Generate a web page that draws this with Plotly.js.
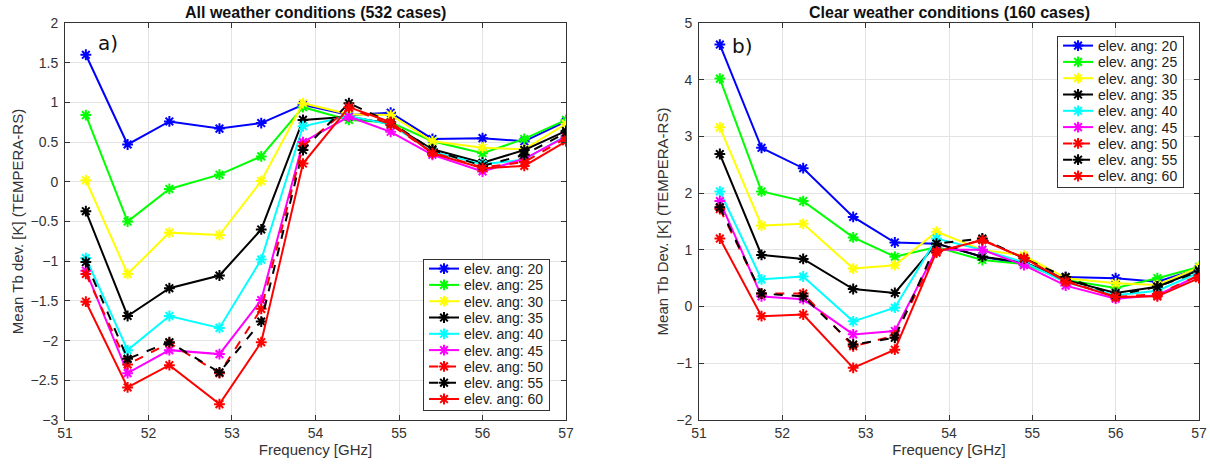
<!DOCTYPE html>
<html><head><meta charset="utf-8">
<script src="https://cdn.plot.ly/plotly-3.0.1.min.js"></script>
<style>body{margin:0;background:#fff}#c{width:1210px;height:464px}</style>
</head><body><div id="c"></div>
<script>
const freq = [51.25, 51.75, 52.25, 52.85, 53.35, 53.85, 54.4, 54.9, 55.4, 56.0, 56.5, 57.0];
const angles = ['20','25','30','35','40','45','50','55','60'];
const colors = ['#0000ff','#00ff00','#ffff00','#000000','#00ffff','#ff00ff','#ff0000','#000000','#ff0000'];
const dashes = ['solid','solid','solid','solid','solid','solid','dash','dash','solid'];

// a) All weather conditions
const allA20 = [1.60, 0.47, 0.76, 0.67, 0.74, 0.97, 0.84, 0.87, 0.54, 0.55, 0.51, 0.76];
const allA25 = [0.84, -0.50, -0.09, 0.09, 0.32, 0.94, 0.78, 0.75, 0.51, 0.36, 0.54, 0.78];
const allA30 = [0.02, -1.16, -0.64, -0.67, 0.01, 0.99, 0.85, 0.84, 0.51, 0.43, 0.41, 0.73];
const allA35 = [-0.37, -1.69, -1.34, -1.18, -0.60, 0.78, 0.82, 0.73, 0.41, 0.24, 0.40, 0.64];
const allA40 = [-0.96, -2.12, -1.69, -1.84, -0.98, 0.70, 0.83, 0.72, 0.38, 0.22, 0.28, 0.58];
const allA45 = [-1.12, -2.41, -2.12, -2.17, -1.49, 0.50, 0.82, 0.63, 0.34, 0.13, 0.29, 0.57];
const allA50 = [-1.16, -2.30, -2.03, -2.41, -1.60, 0.45, 0.93, 0.72, 0.37, 0.18, 0.25, 0.55];
const allA55 = [-1.01, -2.23, -2.02, -2.40, -1.76, 0.40, 0.99, 0.75, 0.40, 0.20, 0.34, 0.62];
const allA60 = [-1.51, -2.59, -2.31, -2.80, -2.02, 0.23, 0.94, 0.75, 0.36, 0.17, 0.20, 0.51];

// b) Clear weather conditions
const clrA20 = [4.62, 2.80, 2.44, 1.58, 1.13, 1.11, 0.88, 0.75, 0.52, 0.50, 0.44, 0.67];
const clrA25 = [4.02, 2.03, 1.86, 1.22, 0.88, 1.05, 0.82, 0.75, 0.47, 0.33, 0.50, 0.70];
const clrA30 = [3.16, 1.43, 1.46, 0.67, 0.73, 1.32, 1.00, 0.90, 0.50, 0.41, 0.38, 0.69];
const clrA35 = [2.69, 0.91, 0.84, 0.31, 0.24, 1.11, 0.88, 0.78, 0.47, 0.24, 0.35, 0.64];
const clrA40 = [2.03, 0.48, 0.53, -0.26, -0.02, 1.20, 1.00, 0.78, 0.43, 0.20, 0.28, 0.60];
const clrA45 = [1.86, 0.18, 0.13, -0.49, -0.43, 1.00, 1.00, 0.73, 0.37, 0.14, 0.20, 0.55];
const clrA50 = [1.72, 0.23, 0.23, -0.70, -0.51, 0.95, 1.18, 0.85, 0.45, 0.17, 0.22, 0.55];
const clrA55 = [1.75, 0.23, 0.18, -0.67, -0.55, 1.11, 1.20, 0.85, 0.52, 0.20, 0.35, 0.62];
const clrA60 = [1.20, -0.17, -0.14, -1.08, -0.76, 0.97, 1.17, 0.86, 0.44, 0.17, 0.18, 0.50];

const allSeries = [allA20, allA25, allA30, allA35, allA40, allA45, allA50, allA55, allA60];
const clrSeries = [clrA20, clrA25, clrA30, clrA35, clrA40, clrA45, clrA50, clrA55, clrA60];

const FONT = 'Liberation Sans, Arial, sans-serif';
const traces = [];
function add(series, xa, ya, leg) {
  series.forEach((ys, i) => {
    traces.push({
      x: freq, y: ys, type: 'scatter', mode: 'lines+markers',
      name: 'elev. ang: ' + angles[i],
      xaxis: xa, yaxis: ya, legend: leg,
      line: {color: colors[i], width: 2, dash: dashes[i]},
      marker: {symbol: 'asterisk-open', size: 9, color: colors[i], line: {color: colors[i], width: 2}}
    });
  });
}
add(allSeries, 'x', 'y', 'legend');
add(clrSeries, 'x2', 'y2', 'legend2');

const axBase = {
  showline: true, mirror: 'ticks', linecolor: '#333', linewidth: 1,
  ticks: 'inside', ticklen: 5, tickcolor: '#333',
  showgrid: true, gridcolor: '#e3e3e3', gridwidth: 1, zeroline: false,
  tickfont: {family: FONT, size: 14, color: '#333'}
};
const xTitle = {text: 'Frequency [GHz]', font: {family: FONT, size: 15, color: '#333'}, standoff: 2};

const layout = {
  width: 1210, height: 464,
  margin: {l: 0, r: 0, t: 0, b: 0},
  paper_bgcolor: '#fff', plot_bgcolor: '#fff',
  showlegend: true,
  xaxis: Object.assign({}, axBase, {domain: [0.0537, 0.4678], range: [51, 57], dtick: 1, anchor: 'y', title: xTitle}),
  yaxis: Object.assign({}, axBase, {domain: [0.0948, 0.9504], range: [-3, 2], dtick: 0.5, anchor: 'x', ticklabelstandoff: 3,
    title: {text: 'Mean Tb dev. [K] (TEMPERA-RS)', font: {family: FONT, size: 15, color: '#333'}, standoff: 3}}),
  xaxis2: Object.assign({}, axBase, {domain: [0.5777, 0.9909], range: [51, 57], dtick: 1, anchor: 'y2', title: xTitle}),
  yaxis2: Object.assign({}, axBase, {domain: [0.0948, 0.9504], range: [-2, 5], dtick: 1, anchor: 'x2', ticklabelstandoff: 3,
    title: {text: 'Mean Tb Dev. [K] (TEMPERA-RS)', font: {family: FONT, size: 15, color: '#333'}, standoff: 3}}),
  legend: {x: 0.3496, y: 0.4418, xanchor: 'left', yanchor: 'top', bgcolor: '#fff', bordercolor: '#333', borderwidth: 1,
    font: {family: FONT, size: 14, color: '#222'}, tracegroupgap: 0, itemwidth: 30},
  legend2: {x: 0.8736, y: 0.9224, xanchor: 'left', yanchor: 'top', bgcolor: '#fff', bordercolor: '#333', borderwidth: 1,
    font: {family: FONT, size: 14, color: '#222'}, tracegroupgap: 0, itemwidth: 30},
  annotations: [
    {text: '<b>All weather conditions (532 cases)</b>', xref: 'paper', yref: 'paper', x: 0.2607, y: 0.973, xanchor: 'center', yanchor: 'middle', showarrow: false, font: {family: FONT, size: 16, color: '#111'}},
    {text: '<b>Clear weather conditions (160 cases)</b>', xref: 'paper', yref: 'paper', x: 0.7843, y: 0.973, xanchor: 'center', yanchor: 'middle', showarrow: false, font: {family: FONT, size: 16, color: '#111'}},
    {text: 'a)', xref: 'x', yref: 'y', x: 51.37, y: 1.75, xanchor: 'left', yanchor: 'middle', showarrow: false, font: {family: 'DejaVu Sans, sans-serif', size: 20, color: '#111'}},
    {text: 'b)', xref: 'x2', yref: 'y2', x: 51.37, y: 4.6, xanchor: 'left', yanchor: 'middle', showarrow: false, font: {family: 'DejaVu Sans, sans-serif', size: 20, color: '#111'}}
  ]
};

function compactLegends() {
  const STEP = 16.3, SHIFT = -7, BOXH = 151;
  ['legend', 'legend2'].forEach(id => {
    const g = document.querySelector('g.' + id);
    if (!g) return;
    const items = g.querySelectorAll('g.traces');
    if (items.length < 2) return;
    const parse = el => {
      const m = /translate\(\s*([-\d.]+)[ ,]+([-\d.]+)\s*\)/.exec(el.getAttribute('transform') || '');
      return m ? [parseFloat(m[1]), parseFloat(m[2])] : [0, 0];
    };
    const p0 = parse(items[0]);
    items.forEach((it, i) => {
      const p = parse(it);
      it.setAttribute('transform', 'translate(' + p[0] + ',' + (p0[1] + i * STEP + SHIFT) + ')');
    });
    const bg = g.querySelector('rect.bg');
    if (bg) bg.setAttribute('height', BOXH);
  });
}

Plotly.newPlot('c', traces, layout, {displayModeBar: false, staticPlot: true}).then(compactLegends);
</script>
</body></html>
